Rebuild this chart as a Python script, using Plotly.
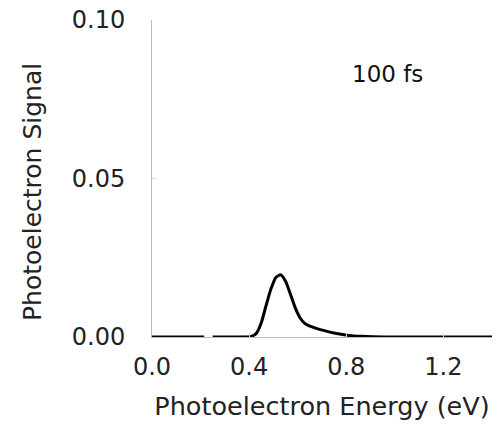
import plotly.graph_objects as go

# Photoelectron spectrum (100 fs)
energy_ev = [0.00, 0.05, 0.10, 0.15, 0.20, 0.215, None,
             0.25, 0.30, 0.35, 0.39, 0.41, 0.43, 0.45, 0.47, 0.49, 0.51, 0.53,
             0.55, 0.57, 0.59, 0.61, 0.63, 0.65, 0.67, 0.71, 0.76, 0.81,
             0.86, 0.91, 1.00, 1.10, 1.20, 1.30, 1.40]
signal = [0.0, 0.0, 0.0, 0.0, 0.0, 0.0, None,
          0.0, 0.0, 0.0, 0.0, 0.0002, 0.0012, 0.0045, 0.0100, 0.0152, 0.0188, 0.0196,
          0.0176, 0.0135, 0.0092, 0.0060, 0.0042, 0.0034, 0.0029, 0.0020, 0.0011, 0.0005,
          0.0002, 0.00005, 0.0, 0.0, 0.0, 0.0, 0.0]

x_ticks = [0.0, 0.4, 0.8, 1.2]
x_tick_text = ["0.0", "0.4", "0.8", "1.2"]
y_ticks = [0.00, 0.05, 0.10]
y_tick_text = ["0.00", "0.05", "0.10"]

FONT = "DejaVu Sans"

fig = go.Figure()
fig.add_trace(go.Scatter(
    x=energy_ev, y=signal, mode="lines",
    line=dict(color="black", width=3, shape="spline", smoothing=0.6),
    connectgaps=False, hoverinfo="skip", showlegend=False,
))

fig.add_annotation(x=0.97, y=0.083, xref="x", yref="y", text="100 fs",
                   showarrow=False, font=dict(family=FONT, size=23, color="#111"))

# y-axis title placed as rotated annotation (sits slightly below plot centre)
fig.add_annotation(x=32, y=192, xref="paper", yref="paper", text="Photoelectron Signal",
                   textangle=-90, showarrow=False, font=dict(family=FONT, size=25, color="#222"))

fig.update_layout(
    width=498, height=427,
    margin=dict(l=152, r=6, t=20, b=90),
    paper_bgcolor="white", plot_bgcolor="white",
    font=dict(family=FONT, size=24, color="#222"),
    showlegend=False,
)
# convert pixel positions for y-title annotation to paper coords
pw = 498 - 152 - 6
ph = 427 - 20 - 90
ann = fig.layout.annotations[1]
ann.x = (32 - 152) / pw
ann.y = 1 - (192 - 20) / ph
ann.xanchor = "center"
ann.yanchor = "middle"

fig.update_xaxes(
    range=[0, 1.4], tickvals=x_ticks, ticktext=x_tick_text,
    showgrid=False, zeroline=False,
    showline=True, linecolor="#bbbbbb", linewidth=1,
    ticks="inside", ticklen=4, tickcolor="#dddddd",
    ticklabelstandoff=8, tickfont=dict(size=24),
    title=dict(text="Photoelectron Energy (eV)", standoff=17, font=dict(size=25.5)),
)
fig.update_yaxes(
    range=[0, 0.10], tickvals=y_ticks, ticktext=y_tick_text,
    showgrid=False, zeroline=False,
    showline=True, linecolor="#bbbbbb", linewidth=1,
    ticks="inside", ticklen=4, tickcolor="#dddddd",
    ticklabelstandoff=21, tickfont=dict(size=24),
)

fig.write_html("out.html")
